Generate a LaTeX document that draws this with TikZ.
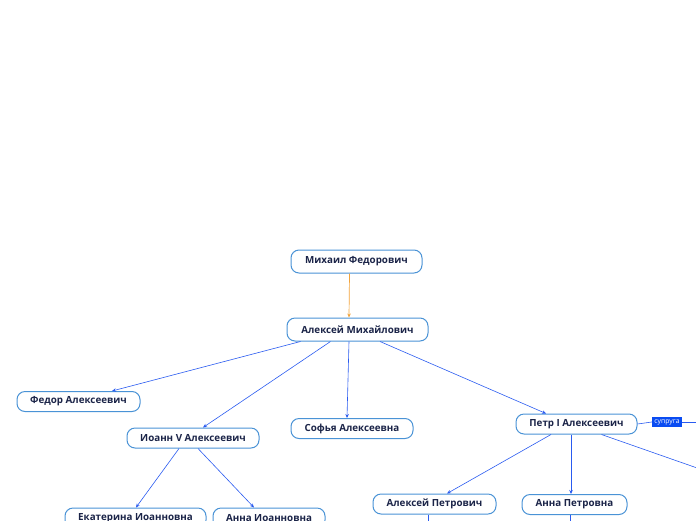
\documentclass[tikz,border=0pt]{standalone}
\usepackage{fontspec}
\setmainfont{Open Sans}
\usetikzlibrary{arrows.meta}
\definecolor{nodeb}{HTML}{4A93D6}
\definecolor{txt}{HTML}{1B2448}
\definecolor{edge}{HTML}{2A5BF0}
\definecolor{orng}{HTML}{F2A33A}
\definecolor{lblf}{HTML}{0A4CF2}
\tikzset{
  person/.style={draw=nodeb, line width=1pt, rounded corners=8pt, fill=white,
    text=txt, font=\fontsize{9.8}{11}\selectfont\bfseries, inner sep=0pt,
    minimum height=20pt, align=center},
  link/.style={draw=edge, line width=0.6pt, -{Stealth[length=4pt,width=3.5pt]}},
  plain/.style={draw=edge, line width=0.6pt},
  spouse/.style={fill=lblf, text=white, font=\fontsize{6.8}{7}\selectfont, inner sep=0pt,
    minimum width=30pt, minimum height=10pt}
}
\begin{document}
\begin{tikzpicture}[x=1pt,y=-1pt]
\useasboundingbox (0,0) rectangle (696,520);
\node[person, minimum width=131pt, minimum height=23pt] (mf) at (356.5,261.5) {Михаил Федорович};
\node[person, minimum width=141pt, minimum height=23pt] (am) at (357.5,329.5) {Алексей Михайлович};
\node[person, minimum width=123pt] (fa) at (78.5,401.5) {Федор Алексеевич};
\node[person, minimum width=132pt] (ia) at (193,438) {Иоанн V Алексеевич};
\node[person, minimum width=122pt] (sa) at (352,428.5) {Софья Алексеевна};
\node[person, minimum width=121pt] (pa) at (576.5,424) {Петр I Алексеевич};
\node[spouse] (sp) at (667,422) {супруга};
\node[person, minimum width=123pt] (ap) at (434.5,504) {Алексей Петрович};
\node[person, minimum width=105pt] (anp) at (574.5,504.5) {Анна Петровна};
\node[person, minimum width=141pt] (ei) at (135.5,518) {Екатерина Иоанновна};
\node[person, minimum width=112pt] (ai) at (269,518) {Анна Иоанновна};
\coordinate (pr) at (700,469);
\coordinate (spr) at (700,422);
\coordinate (apd) at (428,525);
\coordinate (anpd) at (570,525);

\draw[draw=orng, line width=0.7pt, -{Stealth[length=4pt,width=3.5pt]}] ([xshift=-7pt]mf.south) -- ([xshift=-8.5pt]am.north);
\draw[link] ([xshift=-57pt]am.south) -- ([xshift=33.5pt]fa.north);
\draw[link] ([xshift=-27pt]am.south) -- ([xshift=10pt]ia.north);
\draw[link] ([xshift=-8.5pt]am.south) -- ([xshift=-5pt]sa.north);
\draw[link] ([xshift=22.5pt]am.south) -- ([xshift=-30.5pt]pa.north);
\draw[plain] (pa.east) -- (sp.west);
\draw[plain] (sp.east) -- (spr);
\draw[link] ([xshift=-25.5pt]pa.south) -- ([xshift=12.5pt]ap.north);
\draw[link] ([xshift=-5.5pt]pa.south) -- ([xshift=-3.5pt]anp.north);
\draw[plain] ([xshift=25pt]pa.south) -- (pr);
\draw[link] ([xshift=-14pt]ia.south) -- ([xshift=0.5pt]ei.north);
\draw[link] ([xshift=5pt]ia.south) -- ([xshift=-15pt]ai.north);
\draw[plain] ([xshift=-6.5pt]ap.south) -- (apd);
\draw[plain] ([xshift=-4.5pt]anp.south) -- (anpd);
\end{tikzpicture}
\end{document}
